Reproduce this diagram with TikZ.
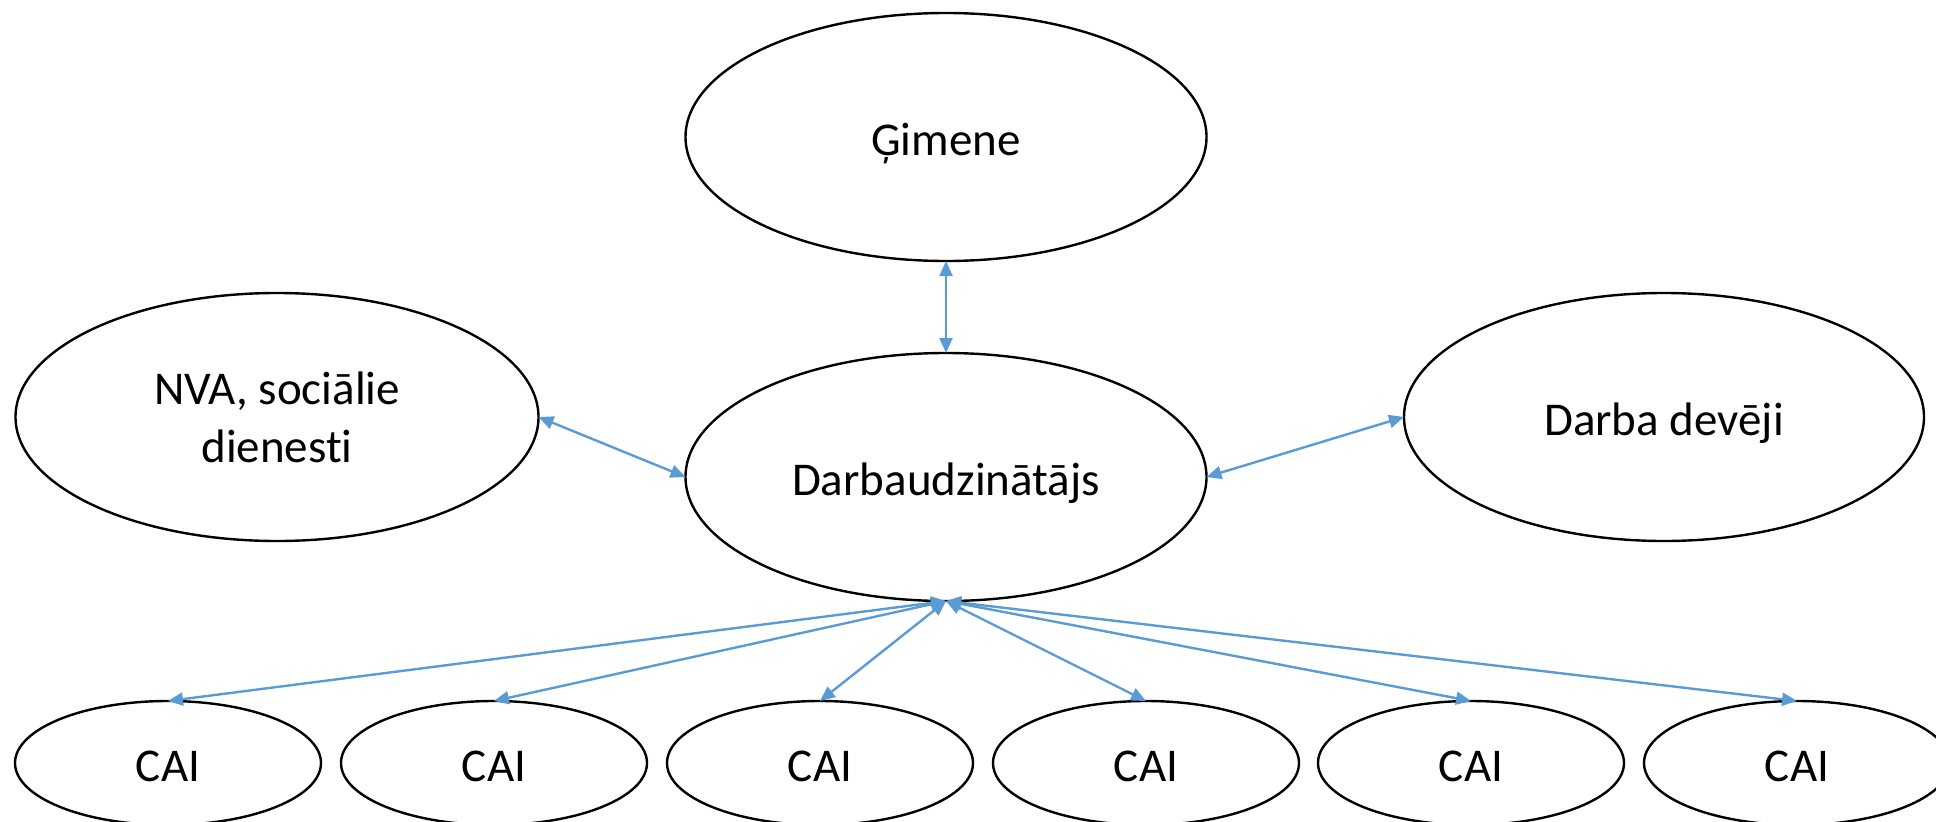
\documentclass[tikz,border=0pt]{standalone}
\usepackage{fontspec}
\setmainfont{Carlito}[Ligatures=NoCommon]
\usetikzlibrary{shapes.geometric,arrows.meta}
\definecolor{linkblue}{HTML}{5B9BD5}
\begin{document}
\begin{tikzpicture}[x=1pt,y=-1pt,
  bub/.style={ellipse,draw=black,line width=2.4pt,inner sep=0pt,outer sep=0pt,
    minimum width=521pt,minimum height=248pt,align=center,
    font=\fontsize{47}{58}\selectfont},
  oneline/.style={text height=36pt,text depth=0pt},
  small/.style={bub,oneline,minimum width=306pt,minimum height=124pt},
  link/.style={linkblue,line width=2.4pt,
    {Triangle[length=15pt,width=13pt]}-{Triangle[length=15pt,width=13pt]}}]
\useasboundingbox (0,0) rectangle (1936,822);
\node[bub,oneline] (gim) at (946,137) {Ģimene};
\node[bub,oneline] (dar) at (946,477) {Darbaudzinātājs};
\node[bub,minimum width=523pt] (nva) at (277,417) {NVA, sociālie\\dienesti};
\node[bub,oneline,minimum width=520pt] (dev) at (1664,417) {Darba devēji};
\node[small] (c1) at (168,763) {CAI};
\node[small] (c2) at (494,763) {CAI};
\node[small] (c3) at (820,763) {CAI};
\node[small] (c4) at (1146,763) {CAI};
\node[small] (c5) at (1471,763) {CAI};
\node[small] (c6) at (1797,763) {CAI};
\draw[link] (gim.south) -- (dar.north);
\draw[link] (nva.east) -- (dar.west);
\draw[link] (dev.west) -- (dar.east);
\foreach \c in {c1,c2,c3,c4,c5,c6}
  \draw[link] (dar.south) -- (\c.north);
\end{tikzpicture}
\end{document}
